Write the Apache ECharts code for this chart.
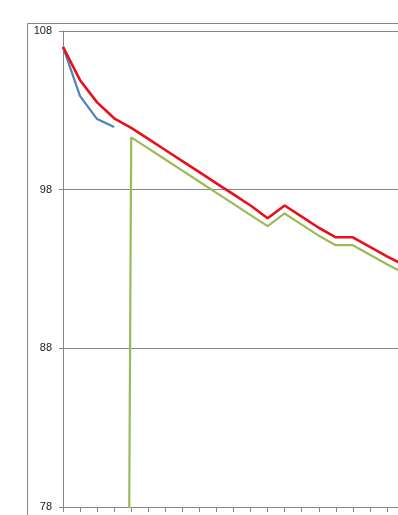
<!DOCTYPE html>
<html>
<head>
<meta charset="utf-8">
<script src="https://cdn.jsdelivr.net/npm/echarts@6/dist/echarts.min.js"></script>
<style>
html,body{margin:0;padding:0;background:#fff;}
#chart{width:398px;height:515px;}
</style>
</head>
<body>
<div id="chart"></div>
<script>
// Categories (labels not visible in the reference)
const categories = ['1','2','3','4','5','6','7','8','9','10','11','12','13','14','15','16','17','18','19','20','21'];
// Series values
const blueValues  = [107.0, 103.9, 102.45, 101.95, null, null, null, null, null, null, null, null, null, null, null, null, null, null, null, null, null];
const greenValues = [null, null, null, -100, 101.3, 100.6, 99.9, 99.2, 98.5, 97.8, 97.1, 96.4, 95.7, 96.5, 95.8, 95.1, 94.5, 94.5, 93.9, 93.3, 92.75];
const redValues   = [107.0, 104.9, 103.5, 102.5, 101.9, 101.2, 100.5, 99.8, 99.1, 98.4, 97.7, 97.0, 96.2, 97.0, 96.3, 95.6, 95.0, 95.0, 94.4, 93.8, 93.25];
// Y axis ticks
const yMin = 78, yMax = 108, yStep = 10;

const chart = echarts.init(document.getElementById('chart'), null, {renderer:'canvas'});
const gridColor = '#868686';
chart.setOption({
  animation: false,
  backgroundColor: '#ffffff',
  graphic: [{
    type: 'rect', left: 25, top: 21, z: -10,
    shape: {width: 400, height: 520},
    style: {fill: 'none', stroke: gridColor, lineWidth: 1}
  }],
  grid: {left: 63, top: 31, width: 341, bottom: 8, containLabel: false, outerBoundsMode: 'none'},
  xAxis: {
    type: 'category',
    data: categories,
    boundaryGap: false,
    axisLine: {show: true, lineStyle: {color: gridColor, width: 1}},
    axisTick: {show: true, inside: false, length: 5, interval: 0, lineStyle: {color: gridColor}},
    axisLabel: {show: false, interval: 0},
    splitLine: {show: false}
  },
  yAxis: {
    type: 'value',
    min: yMin, max: yMax, interval: yStep,
    axisLine: {show: true, lineStyle: {color: gridColor, width: 1}},
    axisTick: {show: true, inside: false, length: 4, lineStyle: {color: gridColor}},
    axisLabel: {show: true, color: '#1a1a1a', fontSize: 11, fontFamily: 'Liberation Sans, Arial, sans-serif', margin: 11},
    splitLine: {show: true, lineStyle: {color: gridColor, width: 1}}
  },
  series: [
    {name: 'Blue', type: 'line', data: blueValues, symbol: 'none', clip: true,
     lineStyle: {color: '#4F81BD', width: 2.2}, itemStyle: {color: '#4F81BD'}, z: 2},
    {name: 'Green', type: 'line', data: greenValues, symbol: 'none', clip: true,
     lineStyle: {color: '#9BBB59', width: 2.2}, itemStyle: {color: '#9BBB59'}, z: 3},
    {name: 'Red', type: 'line', data: redValues, symbol: 'none', clip: true,
     lineStyle: {color: '#E8101A', width: 2.6}, itemStyle: {color: '#E8101A'}, z: 4}
  ]
});
</script>
</body>
</html>
